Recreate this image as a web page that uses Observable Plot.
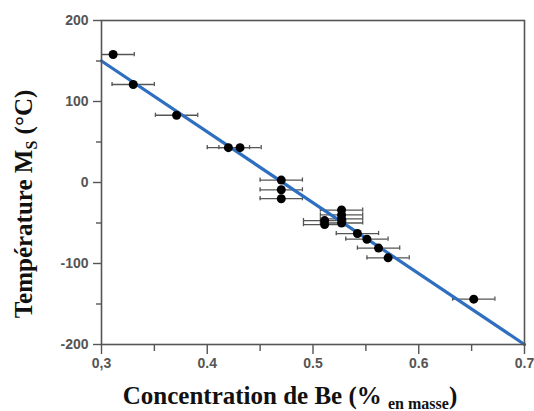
<!DOCTYPE html>
<html>
<head>
<meta charset="utf-8">
<script src="https://cdn.jsdelivr.net/npm/d3@7"></script>
<script src="https://cdn.jsdelivr.net/npm/@observablehq/plot@0.6"></script>
<style>
  html, body { margin: 0; padding: 0; background: #fff; }
  #chart { width: 534px; height: 411px; overflow: hidden; }
</style>
</head>
<body>
<div id="chart"></div>
<script>
// Data
const concentration = [0.311, 0.330, 0.371, 0.420, 0.431, 0.470, 0.470, 0.470, 0.511, 0.511, 0.527, 0.527, 0.527, 0.527, 0.542, 0.551, 0.562, 0.571, 0.652];
const temperature   = [158, 121, 83, 43, 43, 3, -9, -20, -47, -52, -34, -40, -45, -50, -63, -70, -81, -93, -144];
const xError        = [0.02, 0.02, 0.02, 0.02, 0.02, 0.02, 0.02, 0.02, 0.02, 0.02, 0.02, 0.02, 0.02, 0.02, 0.02, 0.02, 0.02, 0.02, 0.02];
const fitX = [0.3, 0.7];
const fitY = [150, -200];
const xTicks = [0.3, 0.4, 0.5, 0.6, 0.7];
const xTickLabels = ["0,3", "0.4", "0.5", "0.6", "0.7"];
const xMinorTicks = [0.35, 0.45, 0.55, 0.65];
const yTicks = [200, 100, 0, -100, -200];
const yMinorTicks = [150, 50, -50, -150];

const points = concentration.map((c, i) => ({x: c, y: temperature[i], e: xError[i]}));
const fit = fitX.map((x, i) => ({x, y: fitY[i]}));
const capHalf = 2.6; // in data units (°C)

const grayAxis = "#555";

const chart = Plot.plot({
  width: 534,
  height: 411,
  marginLeft: 101,
  marginRight: 10,
  marginTop: 20,
  marginBottom: 67,
  style: {background: "#fff", fontFamily: "'Liberation Sans', Arial, sans-serif"},
  x: {domain: [0.3, 0.7]},
  y: {domain: [-200, 200]},
  marks: [
    Plot.ruleY(points, {x1: d => d.x - d.e, x2: d => d.x + d.e, y: "y", stroke: "#555", strokeWidth: 1.3, clip: true}),
    Plot.ruleX(points, {x: d => d.x - d.e, y1: d => d.y - capHalf, y2: d => d.y + capHalf, stroke: "#555", strokeWidth: 1.3, clip: true}),
    Plot.ruleX(points, {x: d => d.x + d.e, y1: d => d.y - capHalf, y2: d => d.y + capHalf, stroke: "#555", strokeWidth: 1.3, clip: true}),
    Plot.line(fit, {x: "x", y: "y", stroke: "#2f6fbf", strokeWidth: 3.2}),
    Plot.dot(points, {x: "x", y: "y", r: 4.5, fill: "#000", stroke: "none"}),
    Plot.frame({stroke: grayAxis, strokeWidth: 1.6}),
    Plot.axisX({ticks: xTicks, tickSize: 10, tickPadding: 4, tickFormat: (d, i) => xTickLabels[i], label: null, stroke: grayAxis, strokeWidth: 1.4, fill: "#555", fontSize: 14, fontWeight: "bold"}),
    Plot.axisX({ticks: xMinorTicks, tickSize: 7, tickFormat: null, text: null, label: null, stroke: grayAxis, strokeWidth: 1.4}),
    Plot.axisY({ticks: yTicks, tickSize: 8, tickPadding: 5, tickFormat: d => String(d).replace("−", "-"), label: null, stroke: grayAxis, strokeWidth: 1.4, fill: "#555", fontSize: 14, fontWeight: "bold"}),
    Plot.axisY({ticks: yMinorTicks, tickSize: 5, text: null, label: null, stroke: grayAxis, strokeWidth: 1.4})
  ]
});

const svg = d3.select(chart);
// Y axis title
const yt = svg.append("text")
  .attr("transform", "translate(32,204) rotate(-90)")
  .attr("text-anchor", "middle")
  .attr("font-family", "'Liberation Serif', 'Times New Roman', serif")
  .attr("font-weight", "bold")
  .attr("font-size", 25)
  .attr("fill", "#111");
yt.append("tspan").text("Température M");
yt.append("tspan").attr("font-size", 16).attr("dy", 5).text("S");
yt.append("tspan").attr("dy", -5).text(" (°C)");

// X axis title
const xt = svg.append("text")
  .attr("x", 290)
  .attr("y", 404)
  .attr("text-anchor", "middle")
  .attr("font-family", "'Liberation Serif', 'Times New Roman', serif")
  .attr("font-weight", "bold")
  .attr("font-size", 25)
  .attr("fill", "#111");
xt.append("tspan").text("Concentration de Be (% ");
xt.append("tspan").attr("font-size", 16).attr("dy", 5).text("en masse");
xt.append("tspan").attr("dy", -5).text(")");

document.getElementById("chart").appendChild(chart);
</script>
</body>
</html>
